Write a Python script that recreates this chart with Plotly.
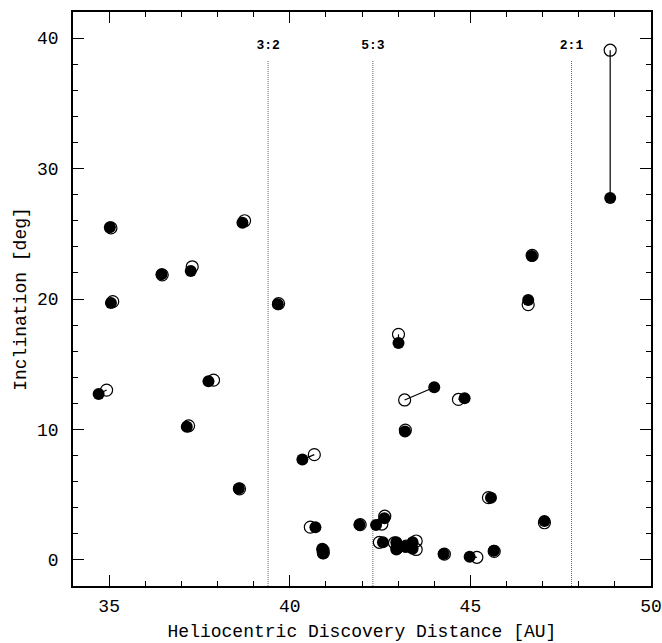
import plotly.graph_objects as go

# Discovery (filled) and other-epoch (open) positions for each object
filled_x = [48.87, 35.02, 35.05, 34.71, 36.45, 37.26, 37.15, 37.75, 38.59, 38.69,
            39.67, 40.35, 40.71, 40.90, 40.92, 41.93, 42.39, 42.62, 42.58, 42.95,
            42.95, 43.20, 43.40, 43.40, 44.26, 44.98, 45.65, 45.57, 43.01, 44.00,
            44.84, 43.19, 46.70, 46.60, 47.05]
filled_y = [27.75, 25.5, 19.7, 12.72, 21.9, 22.15, 10.2, 13.7, 5.48, 25.84,
            19.6, 7.69, 2.51, 0.85, 0.5, 2.69, 2.67, 3.2, 1.35, 1.35,
            0.8, 1.0, 1.35, 0.85, 0.46, 0.25, 0.71, 4.77, 16.63, 13.23,
            12.39, 9.85, 23.3, 19.93, 2.99]
open_x = [48.87, 35.05, 35.10, 34.93, 36.47, 37.30, 37.20, 37.89, 38.61, 38.75,
          39.69, 40.68, 40.57, 40.92, 40.93, 41.95, 42.55, 42.63, 42.48, 42.90,
          42.97, 43.22, 43.50, 43.50, 44.28, 45.18, 45.66, 45.50, 43.01, 43.18,
          44.67, 43.20, 46.71, 46.60, 47.05]
open_y = [39.07, 25.45, 19.8, 13.02, 21.85, 22.47, 10.28, 13.78, 5.45, 26.0,
          19.65, 8.07, 2.51, 0.75, 0.55, 2.7, 2.75, 3.35, 1.35, 1.3,
          0.9, 1.05, 1.45, 0.8, 0.44, 0.2, 0.65, 4.77, 17.29, 12.26,
          12.3, 9.95, 23.35, 19.57, 2.85]

res_x = [39.4, 42.3, 47.8]
res_labels = ["3:2", "5:3", "2:1"]
res_top = 38.3
res_label_y = 39.4

x_ticks = [35, 40, 45, 50]
y_ticks = [0, 10, 20, 30, 40]

FONT = "Liberation Mono"

fig = go.Figure()

# connecting segments
seg_x, seg_y = [], []
for fx, fy, ox, oy in zip(filled_x, filled_y, open_x, open_y):
    seg_x += [fx, ox, None]
    seg_y += [fy, oy, None]
fig.add_trace(go.Scatter(x=seg_x, y=seg_y, mode="lines",
                         line=dict(color="black", width=1.2),
                         hoverinfo="skip", showlegend=False))

# resonance lines
for rx in res_x:
    fig.add_trace(go.Scatter(x=[rx, rx], y=[-2, res_top], mode="lines",
                             line=dict(color="#666666", width=1, dash="1px,1px"),
                             hoverinfo="skip", showlegend=False))
fig.add_trace(go.Scatter(x=res_x, y=[res_label_y] * len(res_x), mode="text",
                         text=["<b>%s</b>" % t for t in res_labels],
                         textfont=dict(family=FONT, size=13, color="black"),
                         hoverinfo="skip", showlegend=False))

fig.add_trace(go.Scatter(x=open_x, y=open_y, mode="markers",
                         marker=dict(symbol="circle-open", size=12,
                                     color="black", line=dict(width=1.2)),
                         showlegend=False))
fig.add_trace(go.Scatter(x=filled_x, y=filled_y, mode="markers",
                         marker=dict(symbol="circle", size=12, color="black",
                                     line=dict(width=0)),
                         showlegend=False))

axis_common = dict(
    showgrid=False, zeroline=False, showline=True, linecolor="black",
    linewidth=1.5, mirror="ticks", ticks="inside", ticklen=11, tickwidth=1.2,
    tickcolor="black", tickfont=dict(family=FONT, size=18, color="black"),
    automargin=False,
)

fig.update_xaxes(range=[34, 50], tickvals=x_ticks, ticktext=[str(v) for v in x_ticks],
                 ticklabelstandoff=3,
                 minor=dict(dtick=1, ticks="inside", ticklen=5, tickcolor="black", tickwidth=1.2),
                 title=dict(text="Heliocentric Discovery Distance [AU]",
                            font=dict(family=FONT, size=18, color="black"), standoff=8),
                 **axis_common)
fig.update_yaxes(range=[-2, 42], tickvals=y_ticks, ticktext=[str(v) for v in y_ticks],
                 ticklabelstandoff=9,
                 minor=dict(dtick=2, ticks="inside", ticklen=5, tickcolor="black", tickwidth=1.2),
                 title=dict(text="Inclination [deg]",
                            font=dict(family=FONT, size=18, color="black"), standoff=6),
                 **axis_common)

fig.update_layout(width=662, height=643, margin=dict(l=73, r=11, t=12, b=57),
                  paper_bgcolor="white", plot_bgcolor="white")

fig.write_html("out.html")
